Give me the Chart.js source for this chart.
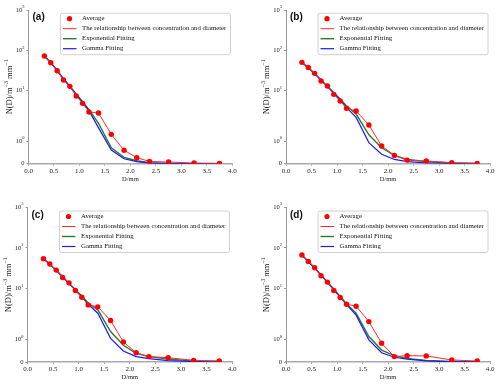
<!DOCTYPE html>
<html lang="en">
<head>
  <meta charset="UTF-8">
  <title>N(D) fitting</title>
  <script src="https://cdn.jsdelivr.net/npm/chart.js"></script>
  <style>
    html, body { margin: 0; padding: 0; background: #fff; }
    #wrap { position: relative; width: 500px; height: 385px; }
    canvas { position: absolute; }
  </style>
</head>
<body>
<div id="wrap">
  <canvas id="ca" width="250" height="190" style="left:0;top:0"></canvas>
  <canvas id="cb" width="250" height="190" style="left:250px;top:0"></canvas>
  <canvas id="cc" width="250" height="195" style="left:0;top:190px"></canvas>
  <canvas id="cd" width="250" height="195" style="left:250px;top:190px"></canvas>
</div>

<script>
  // diameter classes (mm)
  const diam = [0.312, 0.437, 0.562, 0.687, 0.812, 0.937, 1.062, 1.187, 1.375, 1.625, 1.875, 2.125, 2.375, 2.75, 3.25, 3.75];

  const avgA = [72.3, 49.4, 31.3, 18.4, 12.8, 7.4, 4.85, 2.96, 2.79, 1.31, 0.6, 0.27, 0.1, 0.074, 0.03, 0.015];
  const expA = [72, 49.5, 32, 19.5, 13, 8.2, 5.3, 3.4, 1.8, 0.71, 0.285, 0.13, 0.05, 0.015, 0.004, 0.001];
  const gamA = [72, 49.5, 32, 19.5, 12.8, 8.0, 5.1, 3.2, 1.6, 0.61, 0.22, 0.09, 0.03, 0.01, 0.002, 0.0005];

  const avgB = [50.4, 37.8, 26.9, 17.4, 13.1, 8.1, 5.55, 3.65, 3.13, 1.73, 0.79, 0.37, 0.16, 0.12, 0.045, 0.015];
  const expB = [50.4, 37, 26.5, 18.3, 12.8, 8.9, 6.2, 4.2, 2.63, 1.29, 0.71, 0.37, 0.19, 0.1, 0.03, 0.01];
  const gamB = [50.4, 37, 26.5, 18.2, 12.6, 8.7, 5.9, 3.8, 2.18, 0.94, 0.42, 0.19, 0.09, 0.04, 0.01, 0.003];

  const avgC = [54.1, 40, 28.4, 18.7, 13.8, 8.9, 6.1, 3.95, 3.53, 1.84, 0.89, 0.41, 0.24, 0.19, 0.074, 0.045];
  const expC = [54, 39.5, 28, 19.5, 13.5, 9.3, 6.5, 4.4, 2.98, 1.35, 0.74, 0.385, 0.24, 0.13, 0.04, 0.02];
  const gamC = [54, 39.5, 28, 19.3, 13.3, 9.1, 6.2, 4.1, 2.46, 1.05, 0.49, 0.24, 0.15, 0.06, 0.02, 0.01];

  const avgD = [66.7, 46.5, 32.4, 20.6, 14.4, 8.9, 6.0, 4.1, 3.67, 1.79, 0.83, 0.24, 0.28, 0.27, 0.089, 0.045];
  const expD = [66.7, 46.5, 32, 21.5, 14.5, 9.6, 6.4, 4.2, 2.46, 1.13, 0.53, 0.28, 0.16, 0.07, 0.02, 0.005];
  const gamD = [66.7, 46.5, 32, 21.3, 14.3, 9.4, 6.2, 4.0, 2.2, 0.98, 0.41, 0.21, 0.13, 0.05, 0.01, 0.004];

  const seriesNames = ['Average', 'The relationship between concentration and diameter', 'Exponential Fitting', 'Gamma Fitting'];
  const panelLabels = ['(a)', '(b)', '(c)', '(d)'];

  const yTicks = [0, 1, 10, 100, 1000];
  const yTickText = ['0', '10^0', '10^1', '10^2', '10^3'];
  const xTitle = 'D/mm';

  const SERIF = '"Liberation Serif", "Times New Roman", serif';

  // symmetric log scale, linear below 2 (like matplotlib symlog, linthresh=2)
  const LT = 2, LS = 1 / (1 - 1 / 10);
  function symlog(v) {
    const a = Math.abs(v);
    const t = a <= LT ? a / LT * LS : LS + Math.log10(a / LT);
    return Math.sign(v) * t;
  }
  function symexp(t) {
    const a = Math.abs(t);
    const v = a <= LS ? a / LS * LT : LT * Math.pow(10, a - LS);
    return Math.sign(t) * v;
  }

  class SymlogScale extends Chart.Scale {
    static id = 'symlog';
    static defaults = {};
    parse(raw) { return raw == null ? null : +raw; }
    determineDataLimits() {
      this.min = this.options.min;
      this.max = this.options.max;
    }
    buildTicks() {
      return yTicks.map(v => ({ value: v }));
    }
    configure() {
      super.configure();
      this._t0 = symlog(this.min);
      this._t1 = symlog(this.max);
    }
    getPixelForValue(v) {
      return this.getPixelForDecimal((symlog(v) - this._t0) / (this._t1 - this._t0));
    }
    getValueForPixel(p) {
      return symexp(this._t0 + this.getDecimalForPixel(p) * (this._t1 - this._t0));
    }
    getLabelForValue(v) { return String(v); }
  }
  Chart.register(SymlogScale);

  const colors = { avg: '#ff0000', rel: '#ff2a2a', exp: '#2a7d2a', gam: '#1a1aff' };

  // draws y tick labels with exponents, y title, panel tag and the boxed legend
  const decorPlugin = {
    id: 'decor',
    afterDraw(chart, args, opts) {
      const ctx = chart.ctx;
      const ca = chart.chartArea;
      const ys = chart.scales.y;
      ctx.save();
      ctx.fillStyle = '#222';
      ctx.textBaseline = 'middle';

      // y tick labels
      yTicks.forEach((v, i) => {
        const py = ys.getPixelForValue(v);
        const right = ca.left - 4;
        const parts = yTickText[i].split('^');
        ctx.font = '6.5px ' + SERIF;
        if (parts.length === 1) {
          ctx.textAlign = 'right';
          ctx.fillText(parts[0], right, py);
        } else {
          ctx.font = '4.5px ' + SERIF;
          const sw = ctx.measureText(parts[1]).width;
          ctx.textAlign = 'left';
          ctx.fillText(parts[1], right - sw, py - 3);
          ctx.font = '6.5px ' + SERIF;
          ctx.textAlign = 'right';
          ctx.fillText(parts[0], right - sw, py);
        }
      });

      // y title N(D)/m^-3 mm^-1
      const segs = [['N(D)/m', 0], ['\u22123', 1], [' mm', 0], ['\u22121', 1]];
      const widthOf = s => {
        ctx.font = (s[1] ? '6px ' : '8.5px ') + SERIF;
        return ctx.measureText(s[0]).width;
      };
      const total = segs.reduce((a, s) => a + widthOf(s), 0);
      ctx.translate(ca.left - 19, (ca.top + ca.bottom) / 2);
      ctx.rotate(-Math.PI / 2);
      let x = -total / 2;
      ctx.textAlign = 'left';
      segs.forEach(s => {
        const w = widthOf(s);
        ctx.fillText(s[0], x, s[1] ? -3.3 : 0);
        x += w;
      });
      ctx.setTransform(1, 0, 0, 1, 0, 0);

      // panel tag
      ctx.fillStyle = '#111';
      ctx.font = 'bold 10px "Liberation Sans", Arial, sans-serif';
      ctx.textAlign = 'left';
      ctx.fillText(opts.tag, ca.left + 4, ca.top + 7.5);

      // legend box
      const bx = ca.left + 31.5, by = ca.top + opts.legendTop, bw = 170, bh = 41.5;
      ctx.fillStyle = 'rgba(255,255,255,0.85)';
      ctx.strokeStyle = '#d0d0d0';
      ctx.lineWidth = 1;
      ctx.beginPath();
      ctx.roundRect(bx + 0.5, by + 0.5, bw, bh, 2);
      ctx.fill();
      ctx.stroke();

      chart.data.datasets.forEach((ds, i) => {
        const ry = by + 6 + i * 10;
        if (i === 0) {
          ctx.fillStyle = ds.backgroundColor;
          ctx.beginPath();
          ctx.arc(bx + 9.5, ry, 2.6, 0, Math.PI * 2);
          ctx.fill();
        } else {
          ctx.strokeStyle = ds.borderColor;
          ctx.lineWidth = ds.borderWidth;
          ctx.beginPath();
          ctx.moveTo(bx + 3, ry);
          ctx.lineTo(bx + 16.5, ry);
          ctx.stroke();
        }
        ctx.fillStyle = '#111';
        ctx.font = '6.8px ' + SERIF;
        ctx.textAlign = 'left';
        ctx.fillText(ds.label, bx + 22, ry);
      });
      ctx.restore();
    }
  };

  function pts(ys) {
    return diam.map((d, i) => ({ x: d, y: ys[i] }));
  }

  function makePanel(id, avg, expo, gam, tag, lay) {
    new Chart(document.getElementById(id), {
      type: 'line',
      data: {
        datasets: [
          { label: seriesNames[0], data: pts(avg), showLine: false, pointRadius: 2.7,
            backgroundColor: colors.avg, borderColor: colors.avg, pointBorderWidth: 0, order: 0 },
          { label: seriesNames[1], data: pts(avg), borderColor: colors.rel, borderWidth: 1,
            pointRadius: 0, order: 1 },
          { label: seriesNames[2], data: pts(expo), borderColor: colors.exp, borderWidth: 1.4,
            pointRadius: 0, order: 3 },
          { label: seriesNames[3], data: pts(gam), borderColor: colors.gam, borderWidth: 1.2,
            pointRadius: 0, order: 2 }
        ]
      },
      options: {
        responsive: false,
        animation: false,
        devicePixelRatio: 1,
        layout: { padding: { left: 0, right: lay.padR, top: lay.padT, bottom: lay.padB } },
        plugins: {
          legend: { display: false },
          tooltip: { enabled: false },
          decor: { tag: tag, legendTop: lay.legendTop }
        },
        elements: { line: { tension: 0 } },
        scales: {
          x: {
            type: 'linear', min: 0, max: 4,
            ticks: { stepSize: 0.5, callback: v => v.toFixed(1), color: '#222',
                     font: { family: SERIF, size: 7 }, padding: 1, maxRotation: 0 },
            grid: { drawOnChartArea: false, tickLength: 2, color: '#999' },
            border: { color: '#aaa', width: 1.5 },
            title: { display: true, text: xTitle, color: '#222',
                     font: { family: SERIF, size: 6.5 }, padding: { top: 0, bottom: 2 } },
            afterFit: s => { s.height = 21; }
          },
          y: {
            type: 'symlog', min: 0, max: 1000,
            ticks: { display: false },
            grid: { drawOnChartArea: false, tickLength: 2, color: '#999' },
            border: { color: '#999', width: 1 },
            afterFit: s => { s.width = lay.yw; }
          }
        }
      },
      plugins: [decorPlugin]
    });
  }

  makePanel('ca', avgA, expA, gamA, panelLabels[0], { yw: 28.5, padR: 17.7, padT: 10, padB: 5.3, legendTop: 2.7 });
  makePanel('cb', avgB, expB, gamB, panelLabels[1], { yw: 36, padR: 10, padT: 10, padB: 5.3, legendTop: 2.7 });
  makePanel('cc', avgC, expC, gamC, panelLabels[2], { yw: 27.5, padR: 18, padT: 17.3, padB: 2, legendTop: 3.2 });
  makePanel('cd', avgD, expD, gamD, panelLabels[3], { yw: 36, padR: 10, padT: 17.3, padB: 2, legendTop: 3.2 });
</script>
</body>
</html>
